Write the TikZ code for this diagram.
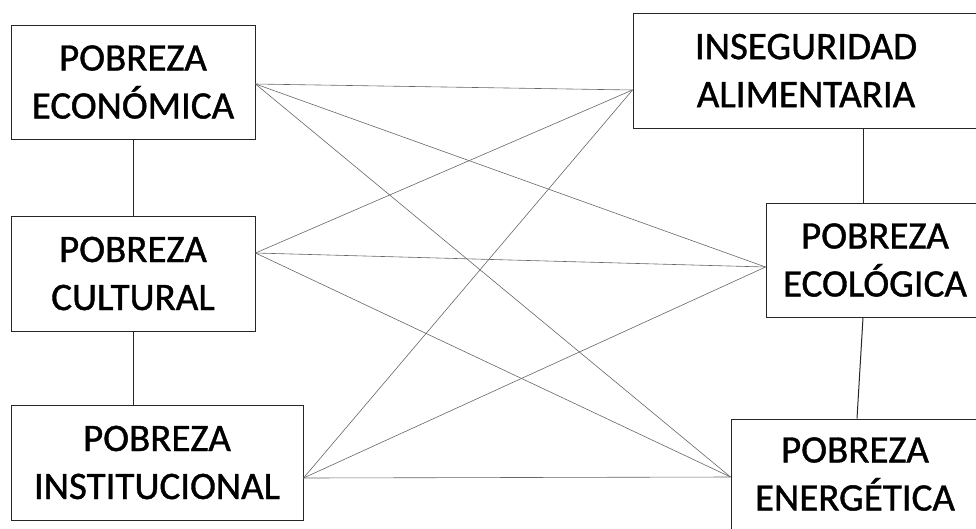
\documentclass[tikz,border=0pt]{standalone}
\usepackage{fontspec}
\setmainfont{Carlito}[FakeBold=1.0]
\begin{document}
\begin{tikzpicture}[x=1pt,y=-1pt,
  box/.style={draw=black!85, line width=1pt, rectangle, inner sep=0pt,
    align=center, font=\fontsize{39}{48}\selectfont},
  link/.style={draw=black!60, line width=0.6pt},
  stem/.style={draw=black!85, line width=1pt}]
\useasboundingbox (0,0) rectangle (976,528);
\clip (0,0) rectangle (976,528);

% left column
\node[box, minimum width=244pt, minimum height=114pt] (eco)  at (133,82)    {POBREZA\\ECONÓMICA};
\node[box, minimum width=244pt, minimum height=115pt] (cult) at (133,273.5) {POBREZA\\CULTURAL};
\node[box, minimum width=292pt, minimum height=115pt] (inst) at (157,462.5) {POBREZA\\INSTITUCIONAL};

% right column
\node[box, minimum width=346pt, minimum height=115pt] (alim) at (806,70.5)  {INSEGURIDAD\\ALIMENTARIA};
\node[box, minimum width=218pt, minimum height=114pt] (ecol) at (875,260)   {POBREZA\\ECOLÓGICA};
\node[box, minimum width=248pt, minimum height=110pt] (ener) at (855,474)   {POBREZA\\ENERGÉTICA};

% attachment points
\coordinate (ecoR)  at ([yshift=-2pt]eco.east);
\coordinate (cultR) at ([yshift=20.5pt]cult.east);
\coordinate (instR) at ([yshift=-15.5pt]inst.east);
\coordinate (alimL) at ([yshift=-19.5pt]alim.west);
\coordinate (ecolL) at ([yshift=-7pt]ecol.west);
\coordinate (enerL) at ([yshift=-3pt]ener.west);

% cross links
\foreach \s in {ecoR,cultR,instR}
  \foreach \t in {alimL,ecolL,enerL}
    \draw[link] (\s) -- (\t);

% column stems
\draw[stem] (eco.south) -- (cult.north);
\draw[stem] (cult.south) -- ([xshift=-24pt]inst.north);
\draw[stem] ([xshift=57pt]alim.south) -- ([xshift=-12pt]ecol.north);
\draw[stem] ([xshift=-12pt]ecol.south) -- ([xshift=2pt]ener.north);
\end{tikzpicture}
\end{document}
